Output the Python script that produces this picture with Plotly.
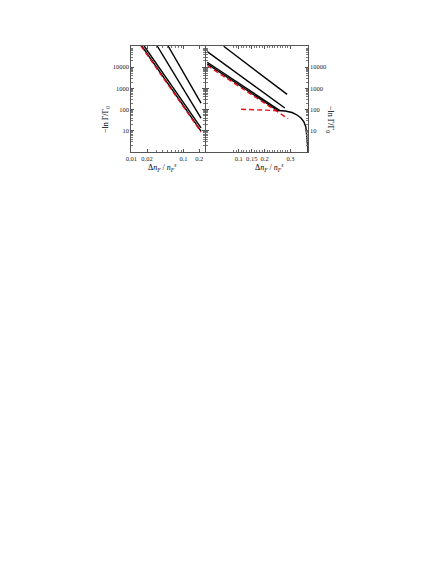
import plotly.graph_objects as go

# left panel: log-log, four black power laws and a red dashed fit
left_x_a = [0.0159, 0.216]
left_y_a = [1e5, 9.6]
left_x_b = [0.0176, 0.216]
left_y_b = [1e5, 13.7]
left_x_c = [0.0313, 0.216]
left_y_c = [1e5, 40]
left_x_d = [0.0506, 0.216]
left_y_d = [1e5, 204]
left_fit_x = [0.0153, 0.216]
left_fit_y = [1e5, 8.8]

# right panel: linear x, log y
right_x_a = [0.0416, 0.287]
right_y_a = [96800, 522]
right_x_b = [-0.022, 0.278]
right_y_b = [54600, 119]
right_x_c = [-0.022, 0.2576]
right_y_c = [17200, 92.7]
right_x_d = [-0.022, 0.2527]
right_y_d = [14300, 86]
right_fit_x = [-0.022, 0.2908]
right_fit_y = [12000, 37.4]
right_flat_x = [0.109, 0.15, 0.2, 0.245]
right_flat_y = [104, 101, 96, 90]
right_curve_x = [0.235, 0.2565, 0.2794, 0.3061, 0.3252, 0.3405, 0.3519, 0.3595, 0.3634, 0.366, 0.3672]
right_curve_y = [93, 90.7, 86, 73, 55.7, 40.3, 26.2, 15.2, 6.4, 2.2, 0.8]

y_ticks = [10, 100, 1000, 10000]
y_ticktext = ["10", "100", "1000", "10000"]
left_xticks = [0.01, 0.02, 0.1, 0.2]
left_xticktext = ["0.01", "0.02", "0.1", "0.2"]
right_xticks = [0.1, 0.15, 0.2, 0.3]
right_xticktext = ["0.1", "0.15", "0.2", "0.3"]

# the page body keeps its default 8px margin, so the figure is shrunk and
# everything below is placed in window pixels minus that offset
OFF = 8
W, H = 442 - 2 * OFF, 571 - 2 * OFF


def px(x):
    return (x - OFF) / W


def py(y):
    return 1 - (y - OFF) / H


FONT = "Liberation Serif"
black = dict(color="black", width=1.4)
red = dict(color="#e8101a", width=1.4, dash="5px,3px")

fig = go.Figure()
for xs, ys in [(left_x_a, left_y_a), (left_x_b, left_y_b), (left_x_c, left_y_c), (left_x_d, left_y_d)]:
    fig.add_trace(go.Scatter(x=xs, y=ys, mode="lines", line=black, xaxis="x", yaxis="y"))
fig.add_trace(go.Scatter(x=left_fit_x, y=left_fit_y, mode="lines", line=red, xaxis="x", yaxis="y"))

for xs, ys in [(right_x_a, right_y_a), (right_x_b, right_y_b), (right_x_c, right_y_c),
               (right_x_d, right_y_d), (right_curve_x, right_curve_y)]:
    fig.add_trace(go.Scatter(x=xs, y=ys, mode="lines", line=black, xaxis="x2", yaxis="y2"))
fig.add_trace(go.Scatter(x=right_fit_x, y=right_fit_y, mode="lines", line=red, xaxis="x2", yaxis="y2"))
fig.add_trace(go.Scatter(x=right_flat_x, y=right_flat_y, mode="lines", line=red, xaxis="x2", yaxis="y2"))

ax_common = dict(
    showline=True, linecolor="#555", linewidth=0.8, mirror="allticks",
    ticks="inside", ticklen=3, tickwidth=0.6, tickcolor="#555",
    showgrid=False, zeroline=False, tickangle=0,
    tickfont=dict(family=FONT, size=6.5, color="#222"),
)
minor_style = dict(ticks="inside", ticklen=1.8, tickcolor="#777")

y_minor = [m * 10 ** e for e in range(0, 5) for m in range(2, 10)]
left_minor = [m * 10 ** e for e in (-2, -1) for m in range(2, 10)]
right_minor = [round(0.08 + 0.01 * i, 2) for i in range(23)]

fig.update_layout(
    width=W, height=H,
    margin=dict(l=0, r=0, t=0, b=0),
    paper_bgcolor="white", plot_bgcolor="white",
    showlegend=False,
    xaxis=dict(ax_common, type="log", range=[-2, -0.59], domain=[px(127), px(201.7)],
               tickvals=left_xticks, ticktext=left_xticktext, anchor="y",
               minor=dict(minor_style, tickvals=left_minor)),
    yaxis=dict(ax_common, type="log", range=[0, 5], domain=[py(152), py(46)], anchor="x",
               tickvals=y_ticks, ticktext=y_ticktext,
               minor=dict(minor_style, tickvals=y_minor)),
    xaxis2=dict(ax_common, range=[-0.027, 0.367], domain=[px(202.7), px(306)],
                tickvals=right_xticks, ticktext=right_xticktext, anchor="y2",
                minor=dict(minor_style, tickvals=right_minor)),
    yaxis2=dict(ax_common, type="log", range=[0, 5], domain=[py(152), py(46)], anchor="x2", side="right",
                tickvals=y_ticks, ticktext=y_ticktext,
                minor=dict(minor_style, tickvals=y_minor)),
)

xlabel = "Δ<i>n<sub>F</sub></i> / <i>n<sub>F</sub><sup>s</sup></i>"
ylabel = "−ln Γ/Γ<sub>0</sub>"
tfont = dict(family=FONT, size=8, color="black")
fig.add_annotation(x=px(158), y=py(160), xref="paper", yref="paper", text=xlabel,
                   showarrow=False, font=tfont)
fig.add_annotation(x=px(267), y=py(160), xref="paper", yref="paper", text=xlabel,
                   showarrow=False, font=tfont)
fig.add_annotation(x=px(108), y=py(104), xref="paper", yref="paper", text=ylabel,
                   textangle=-90, showarrow=False, font=tfont, xanchor="right")
fig.add_annotation(x=px(322), y=py(104), xref="paper", yref="paper", text=ylabel,
                   textangle=90, showarrow=False, font=tfont, xanchor="left")

fig.write_html("out.html")
